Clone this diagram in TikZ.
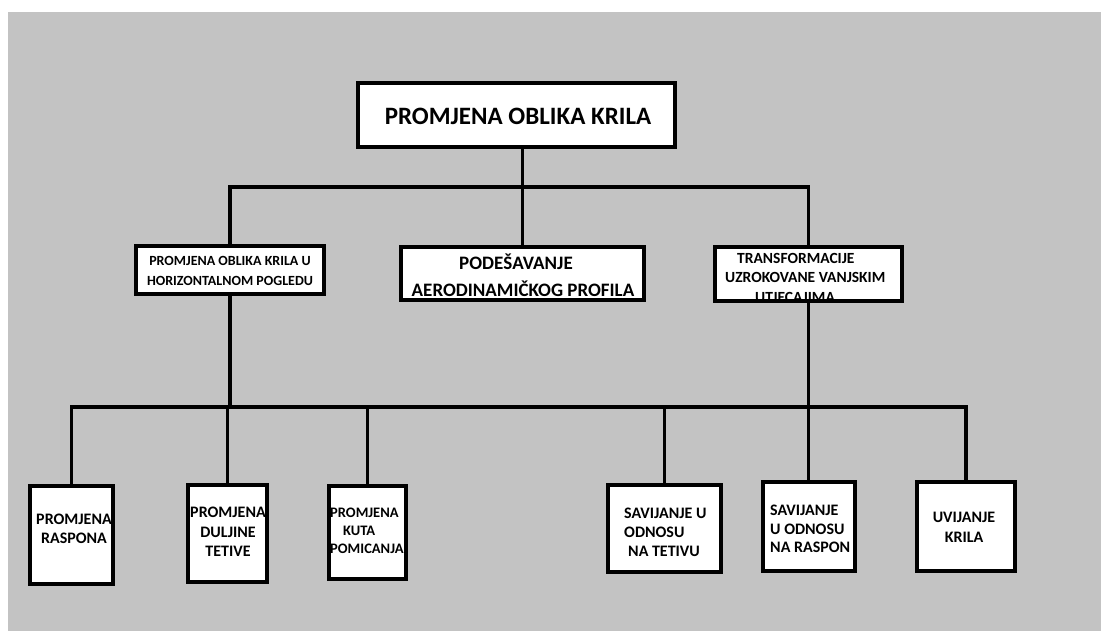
\documentclass[tikz,border=0pt]{standalone}
\usepackage{fontspec}
\setmainfont{Carlito}
\definecolor{panel}{RGB}{195,195,195}
\pgfdeclarelayer{bgl}
\pgfdeclarelayer{lines}
\pgfsetlayers{bgl,lines,main}
\tikzset{
  box/.style={draw=black, fill=white, line width=4pt, inner sep=0pt, outer sep=0pt},
  conn/.style={draw=black, line width=3.6pt},
  txt/.style={inner sep=0pt, text=black},
}
\newcommand{\fs}[2]{\fontsize{#1}{#2}\selectfont\bfseries}
\begin{document}
\begin{tikzpicture}[x=1pt,y=-1pt]
\useasboundingbox (0,0) rectangle (1101,631);
\begin{pgfonlayer}{bgl}
\fill[panel] (8,12) rectangle (1101,631);
\end{pgfonlayer}

% boxes
\node[box, minimum width=317pt, minimum height=64pt] (main) at (516.5,115) {};
\node[box, minimum width=188pt, minimum height=48pt] (b1) at (230,270) {};
\node[box, minimum width=243pt, minimum height=53pt] (b2) at (522.5,273.5) {};
\node[box, draw=none, minimum width=187pt, minimum height=54pt] (b3) at (808.5,274) {};
\node[box, minimum width=83pt, minimum height=98pt] (L1) at (71.5,535) {};
\node[box, minimum width=79pt, minimum height=97pt] (L2) at (227.5,533.5) {};
\node[box, minimum width=77pt, minimum height=93pt] (L3) at (367.5,532.5) {};
\node[box, minimum width=113pt, minimum height=87pt] (R1) at (664.5,528.5) {};
\node[box, minimum width=92pt, minimum height=89pt] (R2) at (809,526.5) {};
\node[box, minimum width=98pt, minimum height=89pt] (R3) at (966,526.5) {};

% texts
\node[txt, anchor=base, font=\fs{25}{30}] (tmain) at (518,125) {PROMJENA OBLIKA KRILA};
\node[txt, anchor=north, align=center, font=\fs{14}{20}] (t1) at (230,256.5)
  {PROMJENA OBLIKA KRILA U\\HORIZONTALNOM POGLEDU};
\node[txt, anchor=north, align=center, font=\fs{19}{26.5}] (t2) at (523,257)
  {PODE\smash{Š}AVANJE\hspace*{14pt}\\AERODINAMI\smash{Č}KOG PROFILA};
\begin{scope}
\clip (b3.north west) rectangle (b3.south east);
\node[txt, anchor=north west, align=left, font=\fs{15.5}{19.5}] (t3) at (725,253)
  {\hspace*{12pt}TRANSFORMACIJE\\UZROKOVANE VANJSKIM\\\hspace*{30pt}UTJECAJIMA};
\end{scope}
\draw[line width=4pt] (b3.north west) rectangle (b3.south east);
\node[txt, anchor=north, align=center, font=\fs{16}{19}] (tL1) at (74,514)
  {PROMJENA\\RASPONA};
\node[txt, anchor=north, align=center, font=\fs{16}{19.5}] (tL2) at (228,507)
  {PROMJENA\\DULJINE\\TETIVE};
\node[txt, anchor=north west, align=left, font=\fs{14.5}{18}] (tL3) at (330,507.4)
  {PROMJENA\\\hspace*{13pt}KUTA\\POMICANJA};
\node[txt, anchor=north west, align=left, font=\fs{16}{19}] (tR1) at (624,508)
  {SAVIJANJE U\\ODNOSU\\\hspace*{4pt}NA TETIVU};
\node[txt, anchor=north west, align=left, font=\fs{16}{18.5}] (tR2) at (770,505)
  {SAVIJANJE\\U ODNOSU\\NA RASPON};
\node[txt, anchor=north, align=center, font=\fs{16}{20}] (tR3) at (964,512)
  {UVIJANJE\\KRILA};

% connectors
\coordinate (bus1) at (522,187);
\coordinate (bus2) at (228,407);
\begin{pgfonlayer}{lines}
\draw[conn] (main.south -| b2.north) -- (b2.north);
\draw[conn] (b1.north) |- (bus1) -| (b3.north);
\draw[conn] (L1.north) |- (bus2) -| (R3.north);
\draw[conn] (b1.south) -- (b1.south |- bus2);
\draw[conn] (L2.north) -- (L2.north |- bus2);
\draw[conn] (L3.north) -- (L3.north |- bus2);
\draw[conn] (R1.north) -- (R1.north |- bus2);
\draw[conn] (b3.south) -- (b3.south |- R2.north);
\end{pgfonlayer}
\end{tikzpicture}
\end{document}
